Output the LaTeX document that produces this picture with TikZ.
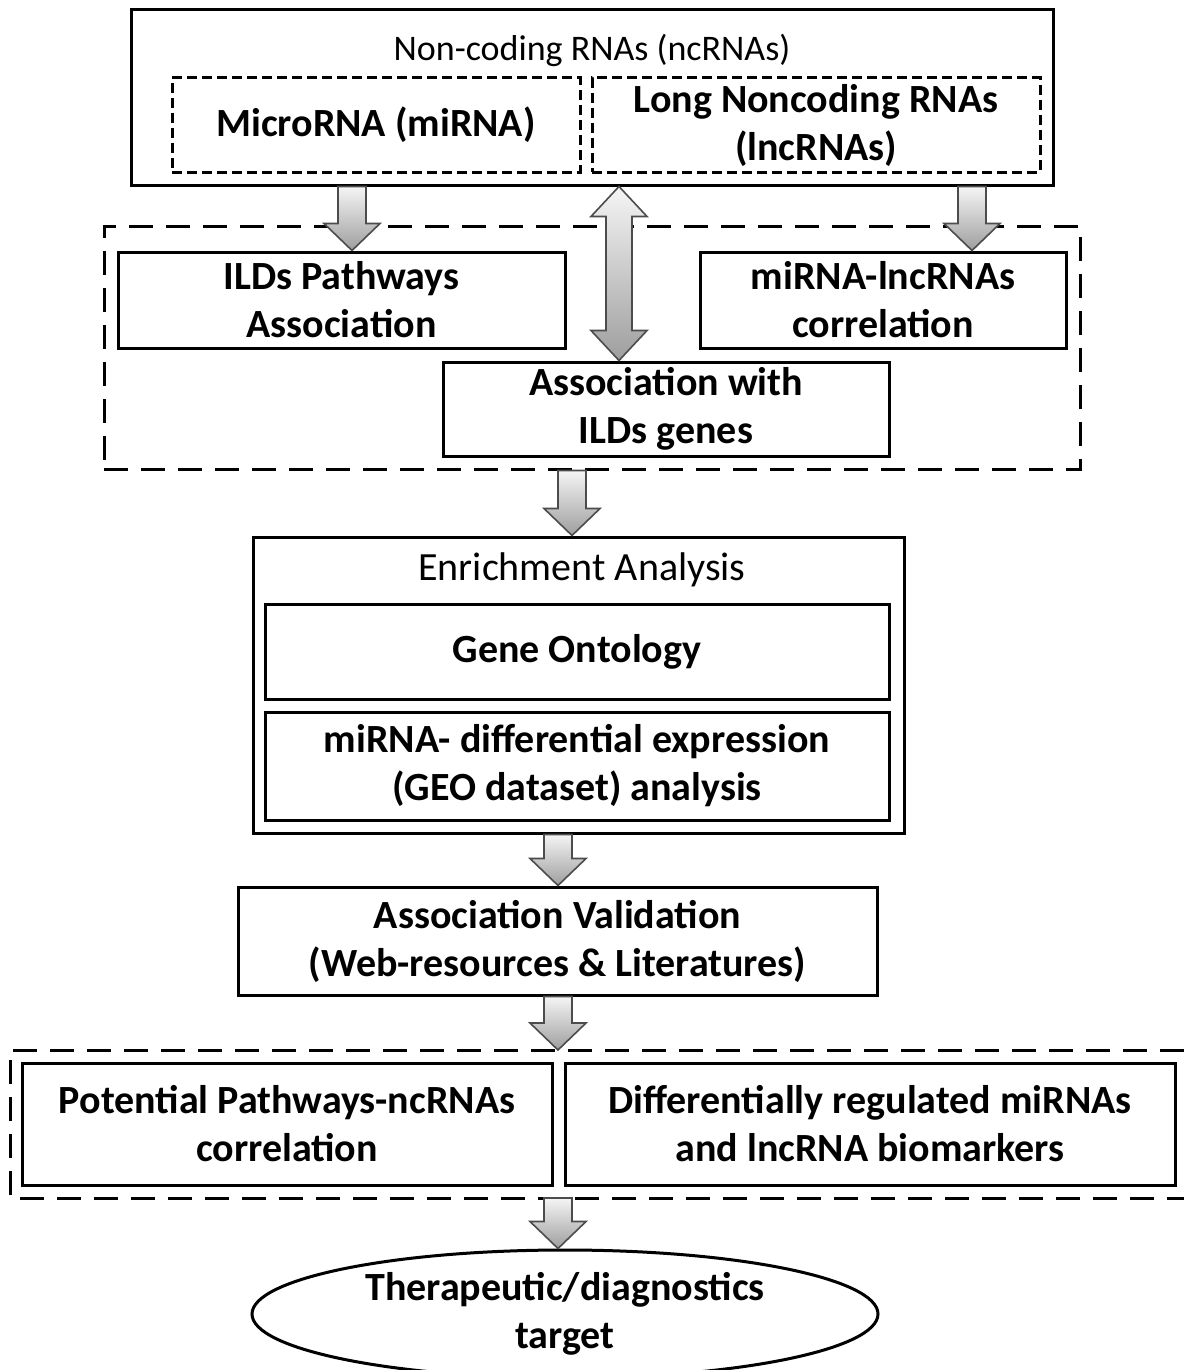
\documentclass[tikz,border=0pt]{standalone}
\usepackage{fontspec}
\setmainfont{Carlito}
\usetikzlibrary{calc,shapes.geometric}
\tikzset{
  boxbase/.style={rectangle, draw=black, line width=3pt, inner sep=0pt, align=center,
    font=\fontsize{40}{48}\selectfont\bfseries},
  solidbox/.style={boxbase},
  dotbox/.style={boxbase, dash pattern=on 10pt off 5pt},
  groupbox/.style={rectangle, draw=black, line width=3pt, dash pattern=on 24pt off 13pt, inner sep=0pt},
  grouppath/.style={draw=black, line width=3pt, dash pattern=on 24pt off 13pt},
  arrowfill/.style={draw=black!70, line width=1.6pt, top color=black!4, bottom color=black!38, line join=miter},
  titletext/.style={inner sep=0pt}
}
\newcommand\blockarrow[2]{%
  \path[arrowfill] let \p1=(#1), \p2=(#2) in
  (\x1-14pt,\y1) -- (\x1+14pt,\y1) -- (\x1+14pt,\y2+27pt) -- (\x1+28pt,\y2+27pt) -- (\x1,\y2)
  -- (\x1-28pt,\y2+27pt) -- (\x1-14pt,\y2+27pt) -- cycle;}
\newcommand\dblblockarrow[2]{%
  \path[arrowfill] let \p1=(#1), \p2=(#2) in
  (\x1,\y1) -- (\x1+28pt,\y1-30pt) -- (\x1+13pt,\y1-30pt) -- (\x1+13pt,\y2+30pt) -- (\x1+28pt,\y2+30pt)
  -- (\x1,\y2) -- (\x1-28pt,\y2+30pt) -- (\x1-13pt,\y2+30pt) -- (\x1-13pt,\y1-30pt) -- (\x1-28pt,\y1-30pt) -- cycle;}
\begin{document}
\begin{tikzpicture}[x=1pt,y=-1pt]
\fill[white] (0,0) rectangle (1184,1370);
\useasboundingbox (0,0) rectangle (1184,1370);

% top box
\node[solidbox, minimum width=922pt, minimum height=175pt] (top) at (592,97.5) {};
\node[titletext, font=\fontsize{36}{44}\selectfont] (toptitle) at (592,50) {Non-coding RNAs (ncRNAs)};
\node[dotbox, minimum width=408pt, minimum height=94pt] (mirna) at (376,125) {MicroRNA (miRNA)};
\node[dotbox, minimum width=448pt, minimum height=94pt] (lnc) at (816,125) {Long Noncoding RNAs\\(lncRNAs)};

% group 1
\node[groupbox, minimum width=976pt, minimum height=243pt] (group1) at (592,347.5) {};
\node[solidbox, minimum width=447pt, minimum height=96pt] (ilds) at (341.5,300) {ILDs Pathways\\Association};
\node[solidbox, minimum width=366pt, minimum height=96pt] (mirlnc) at (883,300) {miRNA-lncRNAs\\correlation};
\node[solidbox, minimum width=446pt, minimum height=94pt] (assoc) at (666,409) {Association with\\ILDs genes};

% enrichment
\node[solidbox, minimum width=651pt, minimum height=296pt] (enrich) at (578.5,685) {};
\node[titletext, font=\fontsize{40}{48}\selectfont] (enrtitle) at (582,570) {Enrichment Analysis};
\node[solidbox, minimum width=624pt, minimum height=95pt] (go) at (577,651.5) {Gene Ontology};
\node[solidbox, minimum width=624pt, minimum height=108pt] (diff) at (577,766) {miRNA- differential expression\\(GEO dataset) analysis};

% validation
\node[solidbox, minimum width=639pt, minimum height=108pt] (valid) at (557.5,941) {Association Validation\\(Web-resources \& Literatures)};

% group 2 (open at right edge)
\coordinate (g2tr) at (1184,1050);
\coordinate (g2tl) at (10,1050);
\coordinate (g2bl) at (10,1198);
\coordinate (g2br) at (1184,1198);
\draw[grouppath] (g2tr) -- (g2tl) -- (g2bl) -- (g2br);
\node[solidbox, minimum width=530pt, minimum height=122pt] (potential) at (287,1124) {Potential Pathways-ncRNAs\\correlation};
\node[solidbox, minimum width=610pt, minimum height=122pt] (differ) at (870,1124) {Differentially regulated miRNAs\\and lncRNA biomarkers};

% target
\node[boxbase, ellipse, minimum width=626pt, minimum height=128pt] (target) at (565,1314) {Therapeutic/diagnostics\\target};

% arrow x positions
\coordinate (xa) at (352,0);
\coordinate (xb) at (619,0);
\coordinate (xc) at (972,0);
\coordinate (xd) at (572,0);
\coordinate (xe) at (558,0);
\coordinate (g2top) at (558,1050);
\coordinate (g2bot) at (558,1198);

\blockarrow{xa |- top.south}{xa |- ilds.north}
\dblblockarrow{xb |- top.south}{xb |- assoc.north}
\blockarrow{xc |- top.south}{xc |- mirlnc.north}
\blockarrow{xd |- group1.south}{xd |- enrich.north}
\blockarrow{xe |- enrich.south}{xe |- valid.north}
\blockarrow{xe |- valid.south}{g2top}
\blockarrow{g2bot}{xe |- target.north}
\end{tikzpicture}
\end{document}
